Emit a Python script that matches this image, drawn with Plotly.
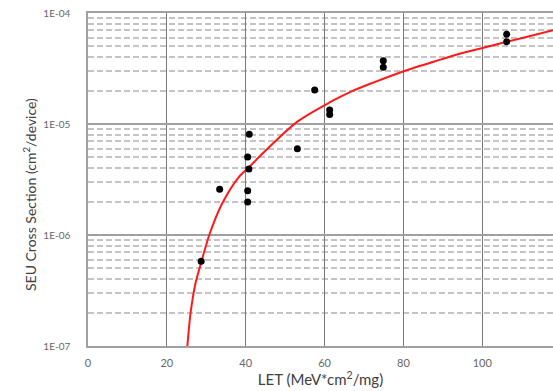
import plotly.graph_objects as go

# Measured data points (LET, cross section)
let_pts = [28.7, 33.4, 40.5, 40.5, 40.8, 40.5, 40.9, 53.1, 57.5, 61.3, 61.3, 74.9, 74.9, 106.2, 106.2]
xs_pts = [5.8e-7, 2.58e-6, 1.98e-6, 2.51e-6, 3.93e-6, 5.04e-6, 8.07e-6, 6.0e-6, 2.02e-5,
          1.34e-5, 1.22e-5, 3.72e-5, 3.24e-5, 6.43e-5, 5.52e-5]

# Fit curve
let_fit = [24.9, 25.2, 26.0, 27.3, 28.8, 30.8, 34.0, 38.2, 40.8, 44.6, 53.1, 61.5, 66.6, 72.5,
           80.1, 89.4, 94.5, 106.3, 118.1, 121.0]
xs_fit = [7.8e-8, 1.0e-7, 1.97e-7, 3.72e-7, 5.8e-7, 1.01e-6, 1.91e-6, 3.31e-6, 4.07e-6, 5.56e-6,
          1.05e-5, 1.58e-5, 1.95e-5, 2.37e-5, 2.99e-5, 3.80e-5, 4.32e-5, 5.50e-5, 7.0e-5, 7.41e-5]

y_ticks = [1e-7, 1e-6, 1e-5, 1e-4]
y_ticktext = ["1E-07", "1E-06", "1E-05", "1E-04"]
y_minor = [m * 10 ** e for e in (-7, -6, -5) for m in range(2, 10)]
x_ticks = [0, 20, 40, 60, 80, 100]

FONT = "Lato"
L, T, B = 88, 13, 45
W, H = 553, 391
plot_w = W - L
x_max = plot_w / 3.9425

fig = go.Figure()
fig.add_trace(go.Scatter(x=let_fit, y=xs_fit, mode="lines",
                         line=dict(color="#ff1a1a", width=2, shape="spline", smoothing=0.8),
                         showlegend=False, hoverinfo="skip"))
fig.add_trace(go.Scatter(x=let_pts, y=xs_pts, mode="markers",
                         marker=dict(color="black", size=7), showlegend=False))

fig.update_layout(
    width=W, height=H,
    margin=dict(l=L, r=0, t=T, b=B),
    paper_bgcolor="white", plot_bgcolor="white",
    font=dict(family=FONT, color="#555"),
    xaxis=dict(range=[0, x_max], tickvals=x_ticks, showgrid=True, gridcolor="#7a7a7a", gridwidth=1.3,
               showline=True, linecolor="#a0a0a0", linewidth=2, mirror=True,
               ticks="outside", ticklen=6, tickcolor="rgba(0,0,0,0)",
               tickfont=dict(size=11, color="#666", family=FONT), zeroline=False,
               title=dict(text="LET (MeV*cm<sup>2</sup>/mg)", font=dict(size=15, color="#404040", family=FONT),
                          standoff=6)),
    yaxis=dict(type="log", range=[-7, -4], tickvals=y_ticks, ticktext=y_ticktext,
               showgrid=True, gridcolor="#a0a0a0", gridwidth=2,
               showline=True, linecolor="#a0a0a0", linewidth=1.5,
               ticks="outside", ticklen=14, tickcolor="rgba(0,0,0,0)",
               tickfont=dict(size=10, color="#666", family=FONT),
               minor=dict(tickvals=y_minor, showgrid=True, gridcolor="#c4c4c4", gridwidth=1.5,
                          griddash="6px,3px", ticks="")),
)
fig.add_annotation(text="SEU Cross Section (cm<sup>2</sup>/device)", textangle=-90,
                   xref="paper", yref="paper", x=(29 - L) / plot_w, y=(H - B - 195) / (H - T - B),
                   xanchor="center", yanchor="middle",
                   showarrow=False, font=dict(size=14, color="#404040", family=FONT))

fig.write_html("out.html")
